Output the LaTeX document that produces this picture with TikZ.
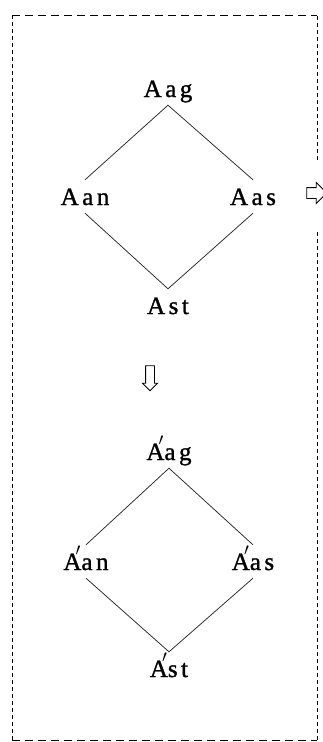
\documentclass[tikz,border=0pt]{standalone}
\usepackage{fontspec}
\setmainfont{Liberation Serif}
\newfontfamily\lblfont[LetterSpace=14, FakeBold=1.2]{Liberation Serif}
\usetikzlibrary{shapes.arrows}
% 带撇的 A
\newcommand{\Ap}{A\llap{\raisebox{0.2em}{$'$}\kern0.02em}}
\begin{document}
\begin{tikzpicture}[x=1pt, y=-1pt,
    lbl/.style={font=\lblfont\fontsize{25}{27}\selectfont, anchor=base,
      text height=17pt, text depth=0pt, inner sep=8pt},
    edge/.style={line width=0.75pt, black!85},
    hollow/.style={single arrow, draw, line width=0.9pt, inner sep=4pt,
      single arrow head extend=3pt, minimum height=25pt}]
    \useasboundingbox (0,0) rectangle (323,742);
    % 虚线框（右边在箭头处断开）
    \draw[line width=1pt, dash pattern=on 8pt off 5pt] (12,15) -- (317,15);
    \draw[line width=1pt, dash pattern=on 8pt off 5pt] (12,740) -- (317,740);
    \draw[line width=1pt, dash pattern=on 4pt off 3pt] (317,160) -- (317,15);
    \draw[line width=1pt, dash pattern=on 4pt off 3pt] (12,15) -- (12,740);
    \draw[line width=1pt, dash pattern=on 4pt off 3pt] (317,740) -- (317,230);
    % 上面的菱形
    \node[lbl] (ag) at (168,97) {Aag};
    \node[lbl] (an) at (85,205) {Aan};
    \node[lbl] (as) at (253,205) {Aas};
    \node[lbl] (st) at (168,314) {Ast};
    \draw[edge] (an.north) -- (ag.south) -- (as.north);
    \draw[edge] (an.south) -- (st.north) -- (as.south);
    % 箭头
    \node[hollow, shape border rotate=270] (down) at (150,376) {};
    \node[hollow, inner sep=5pt, single arrow head extend=5pt, minimum height=20pt] (right) at (314,193) {};
    % 下面的菱形
    \node[lbl] (ag2) at (169,460) {\Ap ag};
    \node[lbl] (an2) at (86,570) {\Ap an};
    \node[lbl] (as2) at (253,570) {\Ap as};
    \node[lbl] (st2) at (169,677) {\Ap st};
    \draw[edge] (an2.north) -- (ag2.south) -- (as2.north);
    \draw[edge] (an2.south) -- (st2.north) -- (as2.south);
\end{tikzpicture}
\end{document}
